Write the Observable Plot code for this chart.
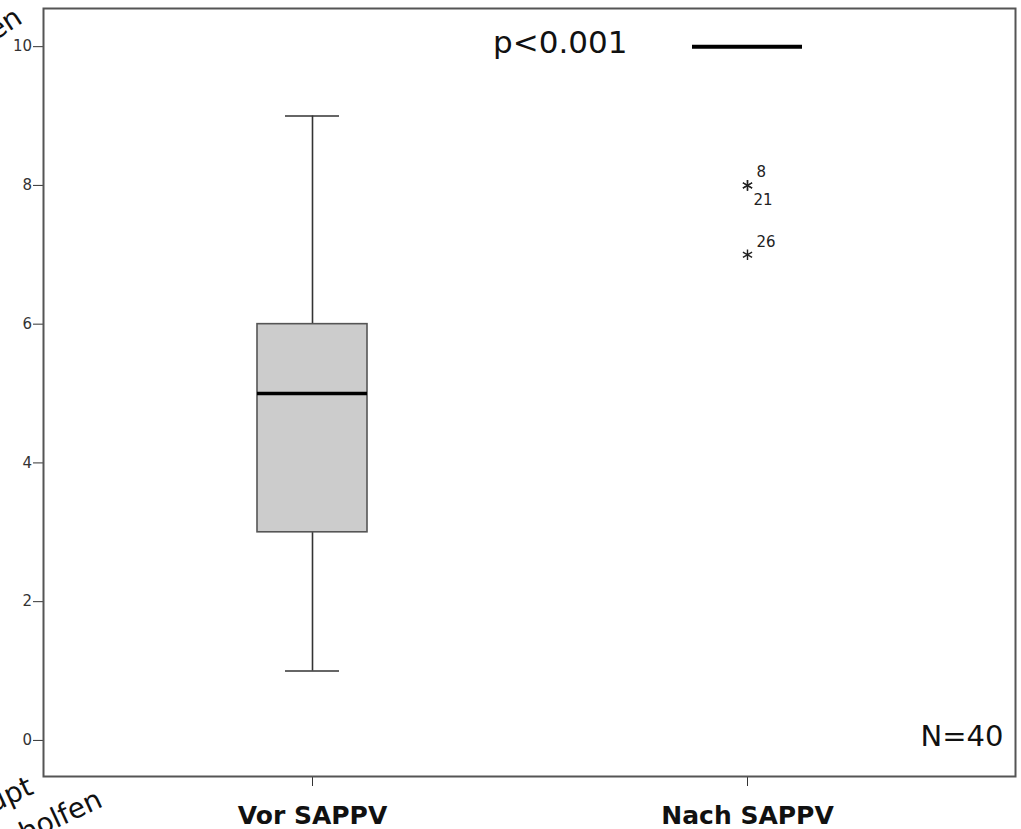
<!DOCTYPE html>
<html>
<head>
<meta charset="utf-8">
<script src="https://cdn.jsdelivr.net/npm/d3@7"></script>
<script src="https://cdn.jsdelivr.net/npm/@observablehq/plot@0.6"></script>
<style>
  html, body { margin: 0; padding: 0; background: white; }
  #chart svg { display: block; }
</style>
</head>
<body>
<div id="chart"></div>
<script>
// Categories and box statistics
const categories = ["Vor SAPPV", "Nach SAPPV"];
const boxCats = ["Vor SAPPV"];
const boxLow = [1];
const boxQ1 = [3];
const boxMedian = [5];
const boxQ3 = [6];
const boxHigh = [9];

// Extreme values (stars) with case numbers
const outlierCats = ["Nach SAPPV", "Nach SAPPV", "Nach SAPPV"];
const outlierValues = [8, 8, 7];
const outlierCases = ["8", "21", "26"];

const yTicks = [0, 2, 4, 6, 8, 10];
const sigCat = "Nach SAPPV";
const sigValue = 10;
const sigText = "p<0.001";
const nText = "N=40";

const boxes = boxCats.map((c, i) => ({cat: c, low: boxLow[i], q1: boxQ1[i], median: boxMedian[i], q3: boxQ3[i], high: boxHigh[i]}));
// label above for first case at a value, below for second
const seen = {};
const outliers = outlierCats.map((c, i) => {
  const k = c + outlierValues[i];
  const n = seen[k] = (seen[k] || 0) + 1;
  return {cat: c, value: outlierValues[i], label: outlierCases[i], above: n === 1};
});

const chart = Plot.plot({
  width: 1021,
  height: 829,
  marginLeft: 43,
  marginTop: 8,
  marginRight: 6,
  marginBottom: 53,
  style: {fontFamily: "DejaVu Sans", background: "white", color: "#222"},
  x: {type: "band", domain: categories, paddingInner: 0.748, paddingOuter: 0.489, align: 0.5, label: null},
  y: {domain: [-0.52, 10.55], label: null},
  marks: [
    Plot.axisY({ticks: yTicks, tickSize: 10, tickPadding: 1.5, fontSize: 15, stroke: "#333", fill: "#333", label: null}),
    Plot.axisX({tickSize: 10, tickPadding: 20, fontSize: 25, fontWeight: "bold", stroke: "#333", fill: "#111", label: null}),
    // whiskers
    Plot.ruleX(boxes, {x: "cat", y1: "low", y2: "q1", stroke: "#333", strokeWidth: 1.6}),
    Plot.ruleX(boxes, {x: "cat", y1: "q3", y2: "high", stroke: "#333", strokeWidth: 1.6}),
    Plot.tickY(boxes, {x: "cat", y: "low", stroke: "#333", strokeWidth: 1.6, insetLeft: 28, insetRight: 28}),
    Plot.tickY(boxes, {x: "cat", y: "high", stroke: "#333", strokeWidth: 1.6, insetLeft: 28, insetRight: 28}),
    // box
    Plot.barY(boxes, {x: "cat", y1: "q1", y2: "q3", fill: "#cccccc", stroke: "#555", strokeWidth: 1.6}),
    Plot.tickY(boxes, {x: "cat", y: "median", stroke: "#000", strokeWidth: 3.5}),
    // extremes
    Plot.dot(outliers, {x: "cat", y: "value", symbol: "asterisk", r: 5, stroke: "#222", strokeWidth: 1.4}),
    Plot.text(outliers.filter(d => d.above), {x: "cat", y: "value", text: "label", dx: 9, dy: -13, textAnchor: "start", fontSize: 15, fill: "#222"}),
    Plot.text(outliers.filter(d => !d.above), {x: "cat", y: "value", text: "label", dx: 6, dy: 15, textAnchor: "start", fontSize: 15, fill: "#222"}),
    // significance annotation
    Plot.tickY([sigValue], {x: () => sigCat, y: d => d, stroke: "#000", strokeWidth: 4}),
    Plot.text([sigText], {x: () => sigCat, y: () => sigValue, text: d => d, dx: -120, dy: -4, textAnchor: "end", fontSize: 31, fill: "#111"}),
    Plot.text([nText], {frameAnchor: "bottom-right", text: d => d, dx: -12, dy: -40, textAnchor: "end", lineAnchor: "middle", fontSize: 29, fill: "#111"}),
    Plot.frame({stroke: "#555", strokeWidth: 2})
  ]
});

document.getElementById("chart").appendChild(chart);

// Cut-off rotated labels from the neighbouring panel
const svg = d3.select(chart);
const frag = [
  {text: "Hat sehr geholfen", x: 24, y: 22, a: -33},
  {text: "Hat überhaupt", x: 35, y: 793, a: -25},
  {text: "nicht geholfen", x: 104, y: 806, a: -25}
];
svg.selectAll("text.frag").data(frag).join("text")
  .attr("class", "frag")
  .attr("transform", d => `translate(${d.x},${d.y}) rotate(${d.a})`)
  .attr("text-anchor", "end")
  .attr("font-family", "DejaVu Sans")
  .attr("font-size", 28)
  .attr("fill", "#111")
  .text(d => d.text);
</script>
</body>
</html>
